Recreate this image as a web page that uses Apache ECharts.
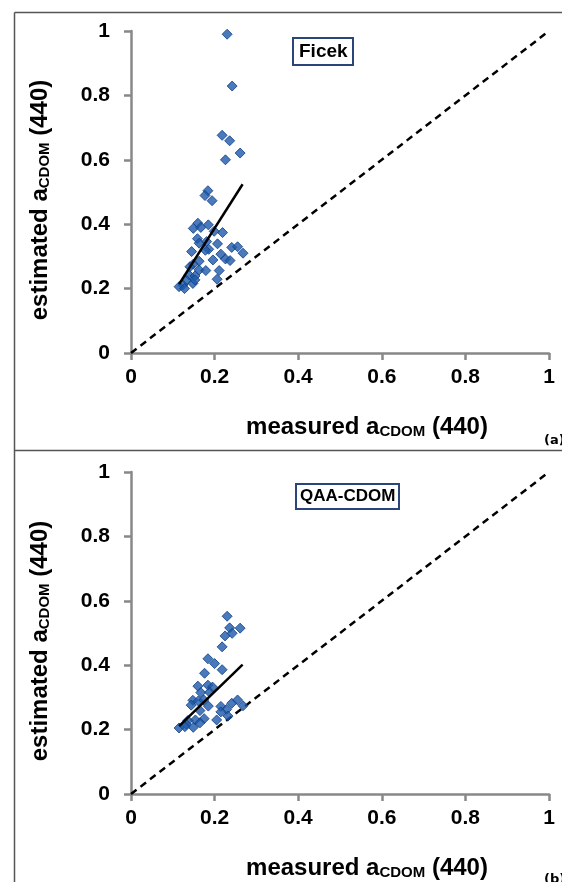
<!DOCTYPE html>
<html>
<head>
<meta charset="utf-8">
<script src="https://cdn.jsdelivr.net/npm/echarts@6/dist/echarts.min.js"></script>
<style>
  html, body { margin: 0; padding: 0; background: #fff; }
  #main { width: 562px; height: 882px; }
</style>
</head>
<body>
<div id="main"></div>
<script>
// panel (a): Ficek  -- [measured, estimated]
var ficekPoints = [
  [0.230, 0.990], [0.242, 0.829], [0.218, 0.676], [0.236, 0.659], [0.261, 0.621],
  [0.226, 0.600], [0.184, 0.504], [0.177, 0.489], [0.194, 0.473], [0.160, 0.403],
  [0.149, 0.387], [0.185, 0.398], [0.167, 0.390], [0.219, 0.374], [0.199, 0.378],
  [0.159, 0.355], [0.163, 0.341], [0.181, 0.346], [0.207, 0.339], [0.186, 0.322],
  [0.145, 0.315], [0.178, 0.319], [0.241, 0.328], [0.255, 0.330], [0.268, 0.310],
  [0.215, 0.307], [0.226, 0.292], [0.237, 0.287], [0.163, 0.285], [0.149, 0.276],
  [0.196, 0.289], [0.163, 0.258], [0.179, 0.256], [0.211, 0.256], [0.139, 0.242],
  [0.153, 0.239], [0.206, 0.229], [0.133, 0.225], [0.148, 0.216], [0.124, 0.211],
  [0.115, 0.206], [0.128, 0.200], [0.153, 0.227], [0.141, 0.268]
];
var ficekFit = [[0.115, 0.214], [0.267, 0.524]];

// panel (b): QAA-CDOM
var qaaPoints = [
  [0.230, 0.552], [0.236, 0.516], [0.261, 0.515], [0.225, 0.491], [0.242, 0.499],
  [0.218, 0.457], [0.184, 0.420], [0.200, 0.405], [0.218, 0.386], [0.176, 0.375],
  [0.160, 0.335], [0.184, 0.338], [0.195, 0.332], [0.167, 0.315], [0.188, 0.316],
  [0.148, 0.291], [0.161, 0.289], [0.174, 0.292], [0.144, 0.276], [0.185, 0.273],
  [0.165, 0.259], [0.215, 0.272], [0.241, 0.282], [0.255, 0.292], [0.268, 0.274],
  [0.229, 0.263], [0.215, 0.255], [0.232, 0.242], [0.205, 0.230], [0.175, 0.234],
  [0.154, 0.230], [0.136, 0.228], [0.132, 0.217], [0.115, 0.205], [0.149, 0.207],
  [0.165, 0.221], [0.129, 0.209]
];
var qaaFit = [[0.115, 0.211], [0.267, 0.402]];

var oneToOne = [[0, 0], [1, 1]];

var font = 'Liberation Sans, Arial, sans-serif';
var chart = echarts.init(document.getElementById('main'));

function makeAxis(idx, isX) {
  var nameRich = {
    t: { fontFamily: font, fontSize: 24, fontWeight: 'bold', color: '#000', lineHeight: 28, verticalAlign: 'bottom' },
    s: { fontFamily: font, fontSize: 15, fontWeight: 'bold', color: '#000', lineHeight: 16, verticalAlign: 'bottom' }
  };
  return {
    type: 'value',
    gridIndex: idx,
    min: 0, max: 1, interval: 0.2,
    name: isX ? '{t|measured a}{s|CDOM}{t| (440)}' : '{t|estimated a}{s|CDOM}{t| (440)}',
    nameLocation: 'middle',
    nameGap: isX ? 58 : 79,
    nameRotate: isX ? 0 : 90,
    nameTextStyle: { rich: nameRich, padding: isX ? [0, 0, 0, 54] : [0, 16, 0, 0] },
    axisLine: { show: true, onZero: false, lineStyle: { color: '#888', width: 2.5 } },
    axisTick: { show: true, inside: false, length: 7, lineStyle: { color: '#888', width: 2.5 } },
    splitLine: { show: false },
    axisLabel: {
      fontFamily: font, fontSize: 21, fontWeight: 'bold', color: '#000',
      margin: isX ? 14 : 21,
      formatter: function (v) { return String(+v.toFixed(1)); }
    }
  };
}

function scatterSeries(idx, pts) {
  return {
    type: 'scatter', xAxisIndex: idx, yAxisIndex: idx, data: pts,
    symbol: 'diamond', symbolSize: 10,
    itemStyle: { color: '#1d59aa', borderColor: '#0d3f85', borderWidth: 1 },
    z: 3
  };
}

function lineSeries(idx, pts, dashed) {
  return {
    type: 'line', xAxisIndex: idx, yAxisIndex: idx, data: pts,
    symbol: 'none', silent: true,
    lineStyle: { color: '#000', width: 2.5, type: dashed ? [7, 5] : 'solid' },
    z: dashed ? 2 : 4
  };
}

var option = {
  backgroundColor: '#fff',
  animation: false,
  grid: [
    { left: 131, top: 31, width: 418, height: 322 },
    { left: 131, top: 472, width: 418, height: 322 }
  ],
  xAxis: [makeAxis(0, true), makeAxis(1, true)],
  yAxis: [makeAxis(0, false), makeAxis(1, false)],
  title: [
    { text: 'Ficek', left: 293, top: 38, padding: [4, 6, 4, 6], borderColor: '#2a4577', borderWidth: 2,
      textStyle: { fontFamily: font, fontSize: 19, fontWeight: 'bold', color: '#000' } },
    { text: 'QAA-CDOM', left: 296, top: 484, padding: [4, 4, 4, 4], borderColor: '#2a4577', borderWidth: 2,
      textStyle: { fontFamily: font, fontSize: 17, fontWeight: 'bold', color: '#000' } },
    { text: '(a)', left: 539, top: 429,
      textStyle: { fontFamily: 'DejaVu Sans', fontSize: 13, fontWeight: 'bold', color: '#000' } },
    { text: '(b)', left: 539, top: 868,
      textStyle: { fontFamily: 'DejaVu Sans', fontSize: 13, fontWeight: 'bold', color: '#000' } }
  ],
  graphic: [
    { type: 'line', shape: { x1: 14.5, y1: 12.5, x2: 14.5, y2: 882 }, style: { stroke: '#555', lineWidth: 1.5 } },
    { type: 'line', shape: { x1: 14.5, y1: 12.5, x2: 562, y2: 12.5 }, style: { stroke: '#555', lineWidth: 1.5 } },
    { type: 'line', shape: { x1: 14.5, y1: 450.5, x2: 562, y2: 450.5 }, style: { stroke: '#555', lineWidth: 1.5 } }
  ],
  series: [
    lineSeries(0, oneToOne, true),
    scatterSeries(0, ficekPoints),
    lineSeries(0, ficekFit, false),
    lineSeries(1, oneToOne, true),
    scatterSeries(1, qaaPoints),
    lineSeries(1, qaaFit, false)
  ]
};
chart.setOption(option);
</script>
</body>
</html>
